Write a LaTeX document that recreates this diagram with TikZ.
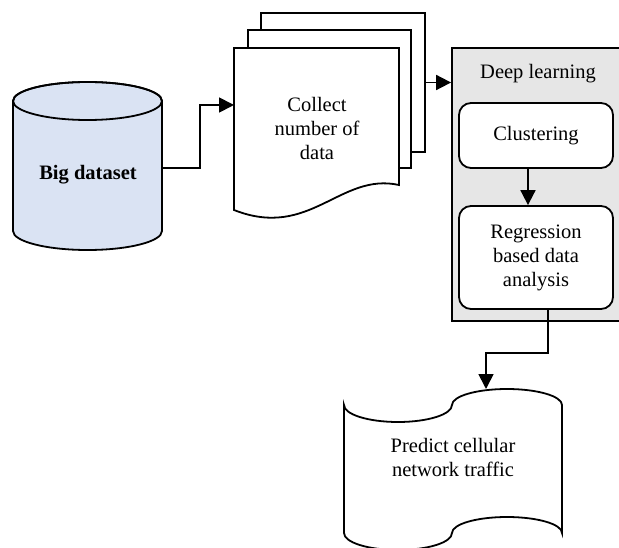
\documentclass[tikz,border=0pt]{standalone}
\usepackage{fontspec}
\setmainfont{Liberation Serif}
\usetikzlibrary{arrows.meta,calc}
\definecolor{cylblue}{HTML}{DAE3F3}
\definecolor{dlgray}{HTML}{E6E6E6}
\begin{document}
\begin{tikzpicture}[x=1pt,y=-1pt,
  every node/.style={font=\fontsize{20.5}{24}\selectfont, align=center},
  outline/.style={line width=1.8pt, draw=black},
  arr/.style={line width=1.8pt, -{Triangle[length=15pt,width=15pt]}},
  sheet/.style={outline, fill=white, inner sep=0pt, rectangle},
  rbox/.style={outline, fill=white, rounded corners=12pt, inner sep=0pt},
  ghost/.style={draw=none, inner sep=0pt}]
\useasboundingbox (0,0) rectangle (619,548);
\begin{scope}
\clip (0,0) rectangle (619,548);
% Big dataset cylinder
\filldraw[outline, fill=cylblue] (13,101) -- (13,231)
  arc[start angle=180, end angle=0, x radius=74.5, y radius=19] -- (162,101)
  arc[start angle=0, end angle=-180, x radius=74.5, y radius=19] -- cycle;
\draw[outline] (87.5,101) ellipse[x radius=74.5, y radius=19];
\node[ghost, minimum width=149pt, minimum height=168pt] (db) at (87.5,168) {};
\node (dbtext) at (88,175) {\textbf{Big dataset}};
% document stack
\node[sheet, minimum width=164pt, minimum height=139pt] (d3) at (343,82.5) {};
\node[sheet, minimum width=163pt, minimum height=138pt] (d2) at (329.5,99) {};
\filldraw[outline, fill=white] (234,48) -- (399,48) -- (399,185)
  .. controls (340,172) and (310,240) .. (234,210) -- cycle;
\node[ghost, minimum width=165pt, minimum height=164pt] (d1) at (316.5,130) {};
\node (d1text) at (317,128) {Collect\\number of\\data};
\coordinate (d1in) at (234,105);
% Deep learning box
\node[outline, fill=dlgray, inner sep=0pt, minimum width=178pt, minimum height=273pt] (dl) at (541,184.5) {};
\node (dltext) at (538,74) {Deep learning};
\node[rbox, minimum width=154pt, minimum height=65pt] (clu) at (536,135.5) {Clustering};
\node[rbox, minimum width=154pt, minimum height=103pt] (reg) at (536,257.5) {Regression\\based data\\analysis};
% punched tape output
\filldraw[outline, fill=white] (344,405)
  arc[start angle=180, end angle=0, x radius=54, y radius=17]
  arc[start angle=180, end angle=360, x radius=55, y radius=16]
  -- (562,533)
  arc[start angle=0, end angle=-180, x radius=55, y radius=16]
  arc[start angle=0, end angle=180, x radius=54, y radius=17]
  -- cycle;
\node[ghost, minimum width=218pt, minimum height=128pt] (tape) at (453,457) {};
\node (tapetext) at (453,457) {Predict cellular\\network traffic};
\coordinate (tapein) at (486,389);
% connectors
\draw[arr] (db.east) -- ++(38,0) |- (d1in);
\draw[arr] (d3.east) -- (d3.east -| dl.west);
\draw[arr] ([xshift=-8pt]clu.south) -- ([xshift=-8pt]reg.north);
\draw[arr] ([xshift=12pt]reg.south) -- ++(0,43) -| (tapein);
\end{scope}
\end{tikzpicture}
\end{document}
